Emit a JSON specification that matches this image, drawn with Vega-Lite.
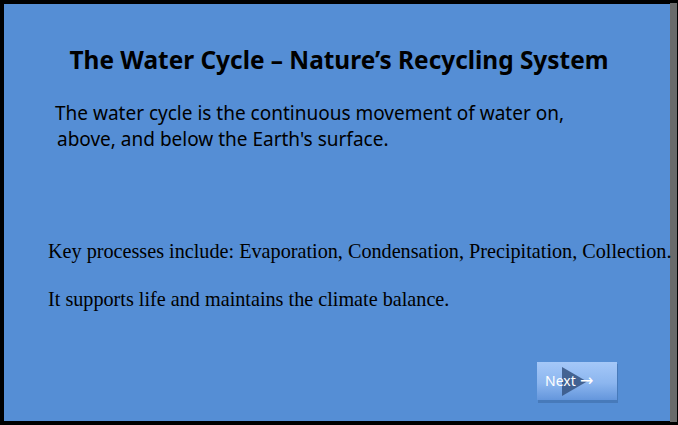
{
  "$schema": "https://vega.github.io/schema/vega-lite/v6.json",
  "width": 678,
  "height": 425,
  "autosize": "none",
  "padding": 0,
  "background": "#ffffff",
  "config": {"view": {"stroke": null}},
  "layer": [
    {
      "data": {"values": [
        {"part": "frame", "x": 0, "x2": 678, "y": 0, "y2": 425}
      ]},
      "mark": {"type": "rect", "color": "#000000"},
      "encoding": {
        "x": {"field": "x", "type": "quantitative", "scale": {"domain": [0, 678], "nice": false, "zero": false}, "axis": null},
        "x2": {"field": "x2"},
        "y": {"field": "y", "type": "quantitative", "scale": {"domain": [0, 425], "reverse": true, "nice": false, "zero": false}, "axis": null},
        "y2": {"field": "y2"}
      }
    },
    {
      "data": {"values": [
        {"part": "right edge", "x": 670, "x2": 677, "y": 3, "y2": 422}
      ]},
      "mark": {"type": "rect", "color": "#6b6b6b"},
      "encoding": {
        "x": {"field": "x", "type": "quantitative"},
        "x2": {"field": "x2"},
        "y": {"field": "y", "type": "quantitative"},
        "y2": {"field": "y2"}
      }
    },
    {
      "data": {"values": [
        {"part": "slide", "x": 4, "x2": 670, "y": 4, "y2": 421}
      ]},
      "mark": {"type": "rect", "color": "#558ED5"},
      "encoding": {
        "x": {"field": "x", "type": "quantitative"},
        "x2": {"field": "x2"},
        "y": {"field": "y", "type": "quantitative"},
        "y2": {"field": "y2"}
      }
    },
    {
      "data": {"values": [
        {"part": "button shadow", "x": 538, "x2": 618, "y": 364, "y2": 403}
      ]},
      "mark": {"type": "rect", "color": "#3D6CA8", "opacity": 0.6},
      "encoding": {
        "x": {"field": "x", "type": "quantitative"},
        "x2": {"field": "x2"},
        "y": {"field": "y", "type": "quantitative"},
        "y2": {"field": "y2"}
      }
    },
    {
      "data": {"values": [
        {"part": "button", "x": 537, "x2": 617, "y": 362, "y2": 400}
      ]},
      "mark": {"type": "rect", "color": {"gradient": "linear", "x1": 0, "y1": 0, "x2": 0, "y2": 1, "stops": [{"offset": 0, "color": "#A5C8F8"}, {"offset": 0.55, "color": "#8CB6EF"}, {"offset": 1, "color": "#6496DC"}]}},
      "encoding": {
        "x": {"field": "x", "type": "quantitative"},
        "x2": {"field": "x2"},
        "y": {"field": "y", "type": "quantitative"},
        "y2": {"field": "y2"}
      }
    },
    {
      "data": {"values": [
        {"part": "play arrow", "x": 574.5, "y": 381.5}
      ]},
      "mark": {"type": "point", "filled": true, "shape": "M-0.86,-1L0.86,0L-0.86,1Z", "size": 841, "color": "#3A5987", "opacity": 0.9, "strokeWidth": 0},
      "encoding": {
        "x": {"field": "x", "type": "quantitative"},
        "y": {"field": "y", "type": "quantitative"}
      }
    },
    {
      "data": {"values": [
        {"part": "title", "x": 339, "y": 69, "text": "The Water Cycle – Nature’s Recycling System"}
      ]},
      "mark": {"type": "text", "font": "Noto Sans", "fontWeight": "bold", "fontSize": 24.4, "align": "center", "baseline": "alphabetic", "color": "#000000"},
      "encoding": {
        "x": {"field": "x", "type": "quantitative"},
        "y": {"field": "y", "type": "quantitative"},
        "text": {"field": "text"}
      }
    },
    {
      "data": {"values": [
        {"part": "intro 1", "x": 55, "y": 120, "text": "The water cycle is the continuous movement of water on,"},
        {"part": "intro 2", "x": 57, "y": 146, "text": "above, and below the Earth's surface."}
      ]},
      "mark": {"type": "text", "font": "Noto Sans", "fontSize": 19, "align": "left", "baseline": "alphabetic", "color": "#000000"},
      "encoding": {
        "x": {"field": "x", "type": "quantitative"},
        "y": {"field": "y", "type": "quantitative"},
        "text": {"field": "text"}
      }
    },
    {
      "data": {"values": [
        {"part": "key", "x": 48, "y": 258, "text": "Key processes include: Evaporation, Condensation, Precipitation, Collection."},
        {"part": "support", "x": 48, "y": 306, "text": "It supports life and maintains the climate balance."}
      ]},
      "mark": {"type": "text", "font": "Liberation Serif", "fontSize": 20.2, "align": "left", "baseline": "alphabetic", "color": "#000000"},
      "encoding": {
        "x": {"field": "x", "type": "quantitative"},
        "y": {"field": "y", "type": "quantitative"},
        "text": {"field": "text"}
      }
    },
    {
      "data": {"values": [
        {"part": "next label", "x": 545, "y": 386, "text": "Next"}
      ]},
      "mark": {"type": "text", "font": "Noto Sans", "fontSize": 14, "align": "left", "baseline": "alphabetic", "color": "#ffffff"},
      "encoding": {
        "x": {"field": "x", "type": "quantitative"},
        "y": {"field": "y", "type": "quantitative"},
        "text": {"field": "text"}
      }
    },
    {
      "data": {"values": [
        {"part": "next arrow", "x": 580, "y": 386, "text": "→"}
      ]},
      "mark": {"type": "text", "font": "DejaVu Sans", "fontSize": 16, "align": "left", "baseline": "alphabetic", "color": "#ffffff"},
      "encoding": {
        "x": {"field": "x", "type": "quantitative"},
        "y": {"field": "y", "type": "quantitative"},
        "text": {"field": "text"}
      }
    }
  ]
}
